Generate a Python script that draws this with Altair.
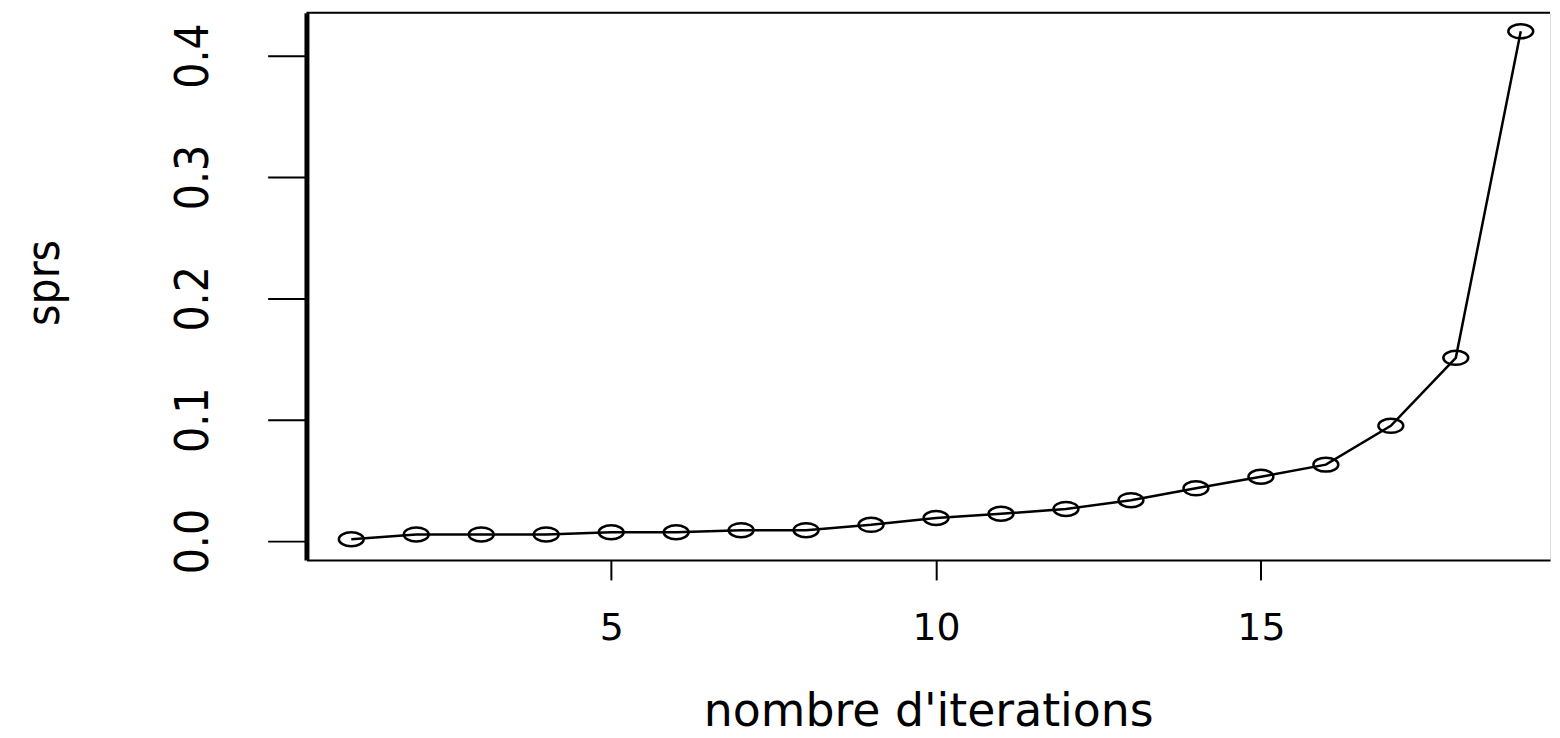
import altair as alt
import pandas as pd

iterations = list(range(1, 20))
sprs = [0.0015, 0.0055, 0.0055, 0.0055, 0.0073, 0.0073, 0.009, 0.009, 0.0134,
        0.019, 0.0225, 0.0265, 0.0337, 0.0435, 0.053, 0.063, 0.095, 0.151, 0.42]
x_ticks = [5, 10, 15]
y_ticks = [0.0, 0.1, 0.2, 0.3, 0.4]

df = pd.DataFrame({"iter": iterations, "sprs": sprs})

W, H = 1250, 550
xscale = alt.Scale(domain=[0.31, 19.45], nice=False, zero=False)
yscale = alt.Scale(domain=[-0.0156, 0.4352], nice=False, zero=False)

narrow = "Liberation Sans Narrow, DejaVu Sans Condensed, Liberation Sans"

x_axis = alt.Axis(values=x_ticks, title="nombre d'iterations", grid=False,
                  domainColor="black", domainWidth=2, tickColor="black",
                  tickWidth=2, tickSize=20, labelFont="DejaVu Sans",
                  labelFontSize=38, labelColor="black", labelPadding=30,
                  labelFlush=False, titleFont="DejaVu Sans", titleFontSize=46,
                  titleFontWeight="normal", titleColor="black", titleY=166,
                  titleBaseline="alphabetic")

y_axis = alt.Axis(values=y_ticks, format=".1f", title="sprs", grid=False,
                  domainColor="black", domainWidth=5, tickColor="black",
                  tickWidth=2, tickSize=39, labelFont=narrow, labelFontSize=46,
                  labelColor="black", labelAngle=270, labelAlign="center",
                  labelBaseline="middle", labelPadding=74, labelFlush=False,
                  titleFont=narrow, titleFontSize=46, titleFontWeight="normal",
                  titleColor="black", titleAngle=270, titleAlign="center",
                  titleBaseline="middle", titleX=-263, titleY=271)

base = alt.Chart(df).encode(
    x=alt.X("iter:Q", scale=xscale, axis=x_axis),
    y=alt.Y("sprs:Q", scale=yscale, axis=y_axis),
)

line = base.mark_line(color="black", strokeWidth=2.5)

ellipse = "M -1 0 A 1 0.56 0 1 0 1 0 A 1 0.56 0 1 0 -1 0 Z"
points = base.mark_point(shape=ellipse, size=625, filled=False, color="black",
                         strokeWidth=2.5, opacity=1)

top_border = alt.Chart(pd.DataFrame({"a": [0]})).mark_rule(
    color="black", strokeWidth=2
).encode(x=alt.value(0), x2=alt.value(W), y=alt.value(0))

chart = alt.layer(line, points, top_border).properties(
    width=W, height=H,
    autosize=alt.AutoSizeParams(type="none"),
    padding={"left": 300, "top": 3, "right": 2, "bottom": 176},
).configure_view(strokeWidth=0).configure(background="white")

chart.save("out.html", embed_options={"renderer": "svg", "actions": False})
